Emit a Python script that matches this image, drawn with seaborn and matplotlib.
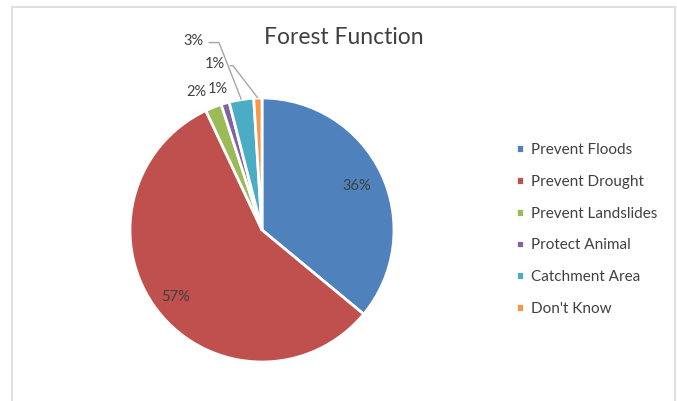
import numpy as np
import matplotlib
matplotlib.use("Agg")
import matplotlib.pyplot as plt
from matplotlib.patches import Rectangle
import seaborn as sns

categories = ["Prevent Floods", "Prevent Drought", "Prevent Landslides",
              "Protect Animal", "Catchment Area", "Don't Know"]
values = [36, 57, 2, 1, 3, 1]
colors = ["#4F81BD", "#C0504D", "#9BBB59", "#8064A2", "#4BACC6", "#F79646"]
title = "Forest Function"

sns.set_theme(style="white")
plt.rcParams['font.family'] = ['Lato', 'DejaVu Sans']
txt = "#404040"

fig = plt.figure(figsize=(6.77, 4.01), dpi=100)
fig.patch.set_facecolor("white")
fig.patches.append(Rectangle((12/677, -0.05), (675-12)/677, 1.05 - 7/401,
                             transform=fig.transFigure, fill=False,
                             edgecolor="#D9D9D9", lw=1.2))

ax = fig.add_axes([(262-132)/677, (171-132)/401, 264/677, 264/401])
palette = sns.color_palette(colors)
wedges, _ = ax.pie(values, colors=palette, startangle=90, counterclock=False,
                   radius=1.0, wedgeprops=dict(edgecolor="white", linewidth=2))
ax.set_xlim(-1, 1)
ax.set_ylim(-1, 1)
ax.set_aspect("equal")
ax.axis("off")

total = sum(values)
def mid_angle(i):
    w = wedges[i]
    return np.deg2rad((w.theta1 + w.theta2) / 2)

fs = 10.5
# big labels inside
for i, d in [(0, 0.79), (1, 0.83)]:
    a = mid_angle(i)
    ax.text(d*np.cos(a), d*np.sin(a), f"{values[i]/total*100:.0f}%",
            ha="center", va="center", fontsize=fs, color=txt)

# small labels near wedge
for i, (dx, dy) in [(2, (-0.09, 0.04)), (3, (-0.03, 0.03))]:
    a = mid_angle(i)
    ax.text(1.1*np.cos(a) + dx, 1.1*np.sin(a) + dy - 0.02, f"{values[i]/total*100:.0f}%",
            ha="center", va="center", fontsize=fs, color=txt)

# labels with leader lines
for i, (lx, ly, hx) in [(4, (-0.52, 1.43, -0.326)), (5, (-0.36, 1.255, -0.22))]:
    a = mid_angle(i)
    ex, ey = np.cos(a), np.sin(a)
    ax.text(lx, ly, f"{values[i]/total*100:.0f}%", ha="center", va="center",
            fontsize=fs, color=txt, clip_on=False)
    lx_r = lx + 0.115
    ax.plot([lx_r, hx, ex], [ly - 0.01, ly - 0.01, ey], color="#A6A6A6", lw=1,
            clip_on=False, solid_capstyle="butt")

fig.text(344/677, 1 - 38/401, title, ha="center", va="center", fontsize=16.5, color=txt)

leg = fig.legend(wedges, categories, loc="center left",
                 bbox_to_anchor=(516/677, 1 - 229.5/401), frameon=False,
                 fontsize=11, handlelength=0.5, handleheight=0.5,
                 handletextpad=0.45, labelspacing=1.16, borderpad=0, borderaxespad=0)
for t in leg.get_texts():
    t.set_color(txt)

fig.savefig("out.png", dpi=100, facecolor="white")
